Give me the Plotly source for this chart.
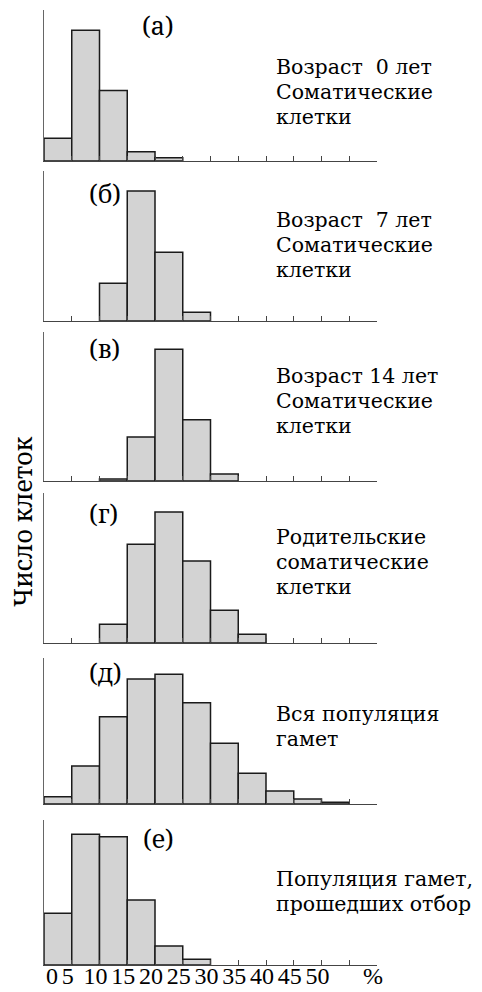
import plotly.graph_objects as go

W, H = 482, 992

# ---- data (relative number of cells per 5% bin) ----
bin_width = 5
bins_a = [0, 5, 10, 15, 20]
vals_a = [22.5, 130, 70, 9.2, 3.3]

bins_b = [10, 15, 20, 25]
vals_b = [37.7, 130, 68.7, 8.7]

bins_v = [10, 15, 20, 25, 30]
vals_v = [2.0, 44.3, 132.6, 61.7, 7.0]

bins_g = [10, 15, 20, 25, 30, 35]
vals_g = [18.7, 98.7, 131, 82, 32.7, 8.7]

bins_d = [0, 5, 10, 15, 20, 25, 30, 35, 40, 45, 50]
vals_d = [7.5, 39, 89.7, 128.4, 133.2, 104, 62.4, 31.5, 13.4, 5.1, 1.7]

bins_e = [0, 5, 10, 15, 20, 25]
vals_e = [53.5, 135.2, 132.7, 67.2, 19.6, 5.9]

panel_letters = ["(а)", "(б)", "(в)", "(г)", "(д)", "(е)"]
panel_texts = [
    ["Возраст  0 лет", "Соматические", "клетки"],
    ["Возраст  7 лет", "Соматические", "клетки"],
    ["Возраст 14 лет", "Соматические", "клетки"],
    ["Родительские", "соматические", "клетки"],
    ["Вся популяция", "гамет"],
    ["Популяция гамет,", "прошедших отбор"],
]
tick_vals = [0, 5, 10, 15, 20, 25, 30, 35, 40, 45, 50, 55, 60]
tick_text = ["\u2007\u20070", "5", "10", "15", "20", "25", "30", "35", "40", "45", "50", "", "%"]
y_title = "Число клеток"

series = [(bins_a, vals_a), (bins_b, vals_b), (bins_v, vals_v),
          (bins_g, vals_g), (bins_d, vals_d), (bins_e, vals_e)]

# ---- layout geometry (pixels) ----
panel_px = [(10, 161), (171, 321), (332, 481), (493, 643), (658, 804), (820, 965)]
x_left, x_right = 44, 377
letter_pos = [(158, 25), (105, 193), (104, 348), (103, 513), (105, 672), (158, 838)]
text_x = 275
text_mid = [92, 245, 401, 562, 726, 891]   # vertical centre of each text block
line_gap = 25

FONT = "Noto Serif, DejaVu Serif, serif"
BLOCK_FONT = "DejaVu Serif, serif"
NUM_FONT = "Liberation Serif, Times New Roman, serif"
fig = go.Figure()
layout = dict(
    width=W, height=H, margin=dict(l=0, r=0, t=0, b=0, autoexpand=False),
    paper_bgcolor="white", plot_bgcolor="white", showlegend=False,
    font=dict(family=FONT, color="black"),
)
annotations = []

for i, ((bins, vals), (top, bot)) in enumerate(zip(series, panel_px)):
    n = "" if i == 0 else str(i + 1)
    fig.add_trace(go.Bar(
        x=[b + bin_width / 2 for b in bins], y=vals, width=bin_width,
        marker=dict(color="#d3d3d3", line=dict(color="#1a1a1a", width=1.5)),
        xaxis="x" + n, yaxis="y" + n, hoverinfo="skip",
    ))
    last = i == len(series) - 1
    layout["xaxis" + n] = dict(
        domain=[x_left / W, x_right / W], range=[0, 60], anchor="y" + n,
        showline=True, linecolor="#444", linewidth=1.2,
        ticks="inside", ticklen=5, tickcolor="#444", tickwidth=1,
        tickvals=tick_vals, ticktext=tick_text, tickangle=0, automargin=False,
        showticklabels=last, tickfont=dict(family=NUM_FONT, size=24, color="black"),
        ticklabelshift=-4, ticklabelstandoff=-11,
        showgrid=False, zeroline=False, fixedrange=True,
    )
    layout["yaxis" + n] = dict(
        domain=[1 - bot / H, 1 - top / H], range=[0, 150], anchor="x" + n,
        showline=True, linecolor="#666", linewidth=1.2, automargin=False,
        ticks="", showticklabels=False, showgrid=False, zeroline=False,
        fixedrange=True,
    )
    lx, ly = letter_pos[i]
    annotations.append(dict(
        text=panel_letters[i], x=lx / W, y=1 - ly / H, xref="paper", yref="paper",
        xanchor="center", yanchor="middle", showarrow=False,
        font=dict(family=FONT, size=25, color="black"),
    ))
    lines = panel_texts[i]
    for j, line in enumerate(lines):
        yc = text_mid[i] + (j - (len(lines) - 1) / 2) * line_gap
        annotations.append(dict(
            text=line, x=text_x / W, y=1 - yc / H,
            xref="paper", yref="paper", xanchor="left", yanchor="middle",
            showarrow=False, borderpad=0,
            font=dict(family=BLOCK_FONT, size=20.5, color="black"),
        ))

annotations.append(dict(
    text=y_title, x=22 / W, y=1 - 522 / H, xref="paper", yref="paper",
    xanchor="center", yanchor="middle", textangle=-90, showarrow=False,
    font=dict(family=FONT, size=25, color="black"),
))
layout["annotations"] = annotations
fig.update_layout(**layout)
fig.write_html("out.html")
